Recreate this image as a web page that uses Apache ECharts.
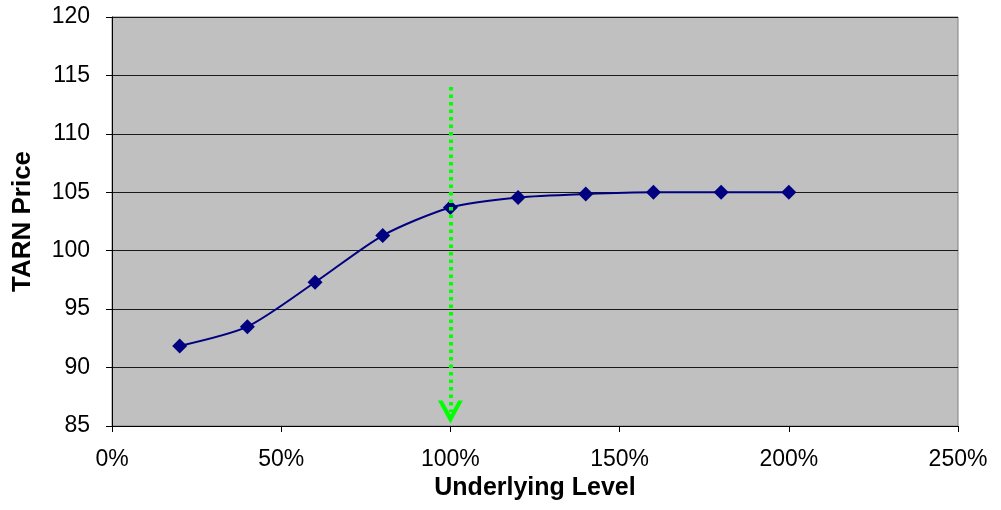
<!DOCTYPE html>
<html>
<head>
<meta charset="utf-8">
<script src="https://cdn.jsdelivr.net/npm/echarts@6/dist/echarts.min.js"></script>
<style>
html,body{margin:0;padding:0;background:#fff;}
#chart{width:1001px;height:510px;}
</style>
</head>
<body>
<div id="chart"></div>
<script>
// Underlying level (%) and TARN price
var underlyingLevels = [20, 40, 60, 80, 100, 120, 140, 160, 180, 200];
var tarnPrices = [91.85, 93.5, 97.3, 101.3, 103.7, 104.55, 104.85, 105.0, 105.0, 105.0];
// Green marker arrow: at level, from price to price
var arrowLevel = 100;
var arrowFrom = 114;
var arrowTo = 86.2;

var chart = echarts.init(document.getElementById('chart'), null, {renderer: 'canvas'});
var font = 'Liberation Sans, Arial, sans-serif';
var seriesData = underlyingLevels.map(function (x, i) { return [x, tarnPrices[i]]; });

chart.setOption({
  animation: false,
  backgroundColor: '#ffffff',
  grid: {
    left: 112, right: 43, top: 17, bottom: 84,
    show: true, backgroundColor: '#c0c0c0', borderColor: '#808080', borderWidth: 1
  },
  xAxis: {
    type: 'value', min: 0, max: 250, interval: 50,
    name: 'Underlying Level', nameLocation: 'middle', nameGap: 50,
    nameTextStyle: {fontFamily: font, fontSize: 25, fontWeight: 'bold', color: '#000'},
    axisLine: {show: true, onZero: false, lineStyle: {color: '#000', width: 1}},
    axisTick: {show: true, inside: false, length: 6, lineStyle: {color: '#000'}},
    axisLabel: {fontFamily: font, fontSize: 23, color: '#000', margin: 22, formatter: '{value}%'},
    splitLine: {show: false}
  },
  yAxis: {
    type: 'value', min: 85, max: 120, interval: 5,
    name: 'TARN Price', nameLocation: 'middle', nameGap: 76, nameRotate: 90,
    nameTextStyle: {fontFamily: font, fontSize: 26, fontWeight: 'bold', color: '#000'},
    axisLine: {show: true, lineStyle: {color: '#000', width: 1}},
    axisTick: {show: true, inside: false, length: 6, lineStyle: {color: '#000'}},
    axisLabel: {fontFamily: font, fontSize: 23, color: '#000', margin: 22},
    splitLine: {show: true, lineStyle: {color: '#1a1a1a', width: 1}}
  },
  series: [{
    type: 'line',
    data: seriesData,
    smooth: 0.25,
    symbol: 'diamond',
    symbolSize: 15,
    lineStyle: {color: '#000080', width: 2},
    itemStyle: {color: '#000080'},
    z: 3,
    markLine: {
      silent: true,
      symbol: ['none', 'path://M12,0 L24,22 L19.5,22 L12,8.5 L4.5,22 L0,22 Z'],
      symbolSize: [25, 23],
      label: {show: false},
      lineStyle: {color: '#00ff00', width: 4, type: [3.5, 4]},
      itemStyle: {color: '#00ff00'},
      z: 5,
      data: [[{coord: [arrowLevel, arrowFrom]}, {coord: [arrowLevel, arrowTo]}]]
    }
  }]
});
</script>
</body>
</html>
